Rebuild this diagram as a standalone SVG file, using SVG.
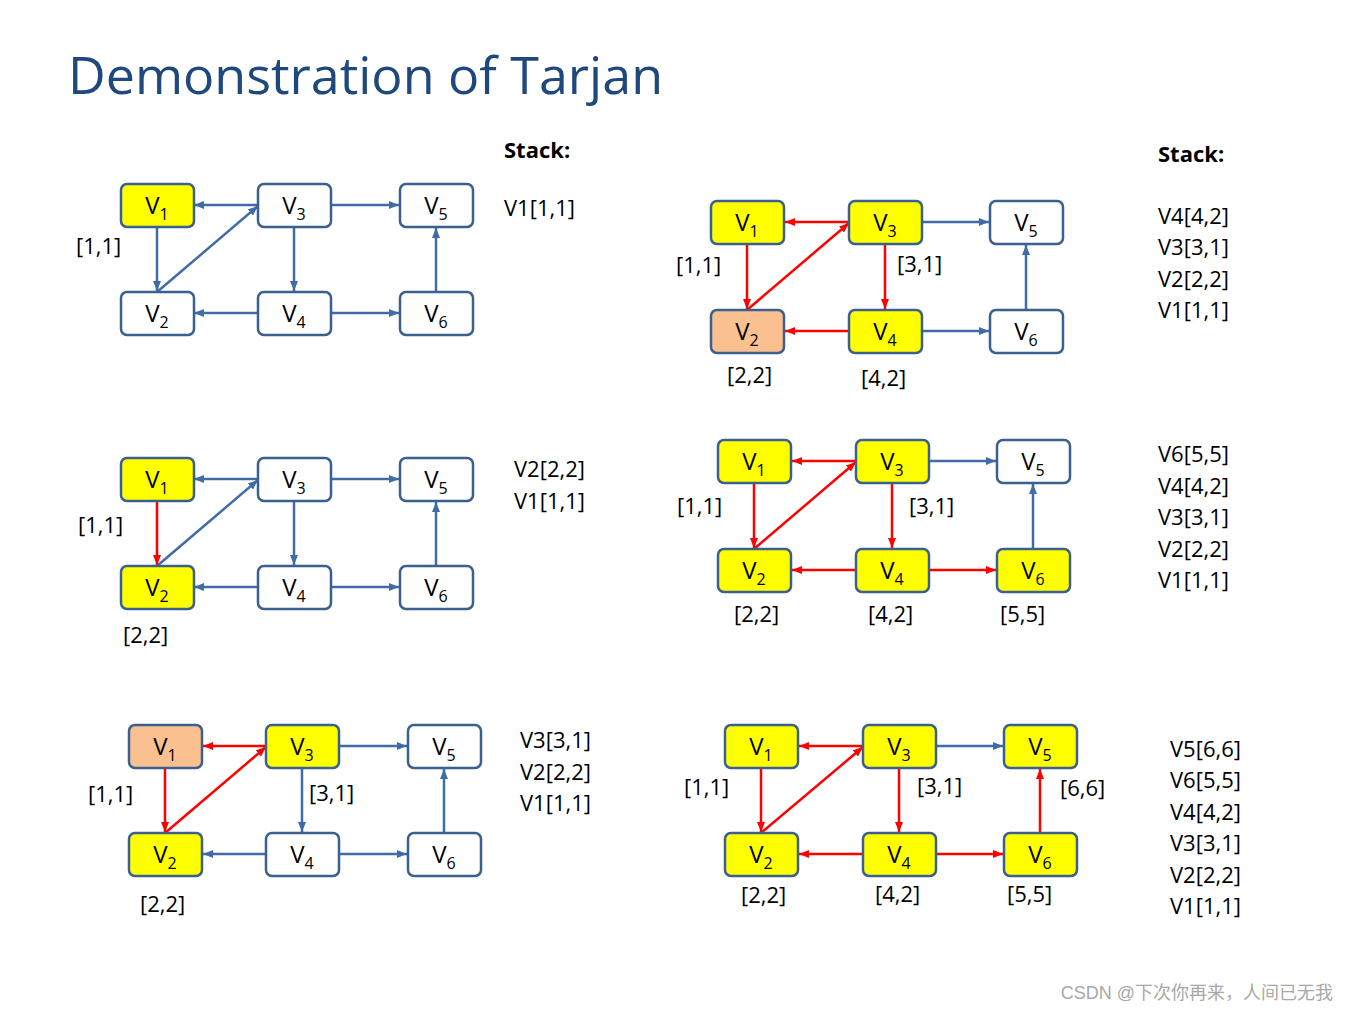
<svg xmlns="http://www.w3.org/2000/svg" width="1348" height="1012" viewBox="0 0 1348 1012">
<style>
.n rect{stroke:#3B5F8F;stroke-width:2.5;fill:#fff}
.y rect{fill:#FFFF00}
.o rect{fill:#FAC090}
.n text{font-family:"Open Sans","Liberation Sans",sans-serif;font-size:24px;fill:#000;text-anchor:middle}
.n tspan{font-size:16px}
.b{stroke:#3F6CA6;stroke-width:2.5;fill:none;marker-end:url(#mb)}
.r{stroke:#FF0000;stroke-width:2.5;fill:none;marker-end:url(#mr)}
.l{font-family:"Open Sans","Liberation Sans",sans-serif;font-size:22px;fill:#000}
.h{font-family:"Open Sans","Liberation Sans",sans-serif;font-size:22px;font-weight:bold;fill:#000}
</style>
<defs>
<marker id="mb" markerUnits="userSpaceOnUse" markerWidth="10" markerHeight="8" refX="10" refY="4" orient="auto"><path d="M0,0L10,4L0,8z" fill="#3F6CA6"/></marker>
<marker id="mr" markerUnits="userSpaceOnUse" markerWidth="10" markerHeight="8" refX="10" refY="4" orient="auto"><path d="M0,0L10,4L0,8z" fill="#FF0000"/></marker>
</defs>
<rect width="1348" height="1012" fill="#fff"/>
<text x="68" y="94" font-family="Open Sans,Liberation Sans,sans-serif" font-size="52" fill="#1F497D">Demonstration of Tarjan</text>

<g id="connectors">
<!-- P1 a121 b258 c400 y0 184 y1 292 -->
<line class="b" x1="258" y1="205" x2="194" y2="205"/>
<line class="b" x1="157" y1="227" x2="157" y2="291"/>
<line class="b" x1="157" y1="292" x2="258" y2="206"/>
<line class="b" x1="294" y1="227" x2="294" y2="291"/>
<line class="b" x1="258" y1="313" x2="194" y2="313"/>
<line class="b" x1="331" y1="205" x2="399" y2="205"/>
<line class="b" x1="331" y1="313" x2="399" y2="313"/>
<line class="b" x1="436" y1="292" x2="436" y2="228"/>
<!-- P2 y0 458 y1 566 -->
<line class="b" x1="258" y1="479" x2="194" y2="479"/>
<line class="r" x1="157" y1="501" x2="157" y2="565"/>
<line class="b" x1="157" y1="566" x2="258" y2="480"/>
<line class="b" x1="294" y1="501" x2="294" y2="565"/>
<line class="b" x1="258" y1="587" x2="194" y2="587"/>
<line class="b" x1="331" y1="479" x2="399" y2="479"/>
<line class="b" x1="331" y1="587" x2="399" y2="587"/>
<line class="b" x1="436" y1="566" x2="436" y2="502"/>
<!-- P3 a129 b266 c408 y0 725 y1 833 -->
<line class="r" x1="266" y1="746" x2="203" y2="746"/>
<line class="r" x1="165" y1="768" x2="165" y2="832"/>
<line class="r" x1="165" y1="833" x2="266" y2="747"/>
<line class="b" x1="302" y1="768" x2="302" y2="832"/>
<line class="b" x1="266" y1="854" x2="203" y2="854"/>
<line class="b" x1="339" y1="746" x2="407" y2="746"/>
<line class="b" x1="339" y1="854" x2="407" y2="854"/>
<line class="b" x1="444" y1="833" x2="444" y2="769"/>
<!-- P4 a711 b849 c990 y0 201 y1 310 -->
<line class="r" x1="849" y1="222" x2="785" y2="222"/>
<line class="r" x1="747" y1="244" x2="747" y2="309"/>
<line class="r" x1="747" y1="310" x2="849" y2="223"/>
<line class="r" x1="885" y1="244" x2="885" y2="309"/>
<line class="r" x1="849" y1="331" x2="785" y2="331"/>
<line class="b" x1="922" y1="222" x2="989" y2="222"/>
<line class="b" x1="922" y1="331" x2="989" y2="331"/>
<line class="b" x1="1026" y1="310" x2="1026" y2="245"/>
<!-- P5 a718 b856 c997 y0 440 y1 549 -->
<line class="r" x1="856" y1="461" x2="792" y2="461"/>
<line class="r" x1="754" y1="483" x2="754" y2="548"/>
<line class="r" x1="754" y1="549" x2="856" y2="462"/>
<line class="r" x1="892" y1="483" x2="892" y2="548"/>
<line class="r" x1="856" y1="570" x2="792" y2="570"/>
<line class="b" x1="929" y1="461" x2="996" y2="461"/>
<line class="r" x1="929" y1="570" x2="996" y2="570"/>
<line class="b" x1="1033" y1="549" x2="1033" y2="484"/>
<!-- P6 a725 b863 c1004 y0 725 y1 833 -->
<line class="r" x1="863" y1="746" x2="799" y2="746"/>
<line class="r" x1="761" y1="768" x2="761" y2="832"/>
<line class="r" x1="761" y1="833" x2="863" y2="747"/>
<line class="r" x1="899" y1="768" x2="899" y2="832"/>
<line class="r" x1="863" y1="854" x2="799" y2="854"/>
<line class="b" x1="936" y1="746" x2="1003" y2="746"/>
<line class="r" x1="936" y1="854" x2="1003" y2="854"/>
<line class="r" x1="1040" y1="833" x2="1040" y2="769"/>
</g>

<!-- Panel 1 -->
<g id="p1v1" class="n y"><rect x="121" y="184" width="73" height="43" rx="6"/><text x="157" y="214">V<tspan dy="6">1</tspan></text></g>
<g id="p1v3" class="n"><rect x="258" y="184" width="73" height="43" rx="6"/><text x="294" y="214">V<tspan dy="6">3</tspan></text></g>
<g id="p1v5" class="n"><rect x="400" y="184" width="73" height="43" rx="6"/><text x="436" y="214">V<tspan dy="6">5</tspan></text></g>
<g id="p1v2" class="n"><rect x="121" y="292" width="73" height="43" rx="6"/><text x="157" y="322">V<tspan dy="6">2</tspan></text></g>
<g id="p1v4" class="n"><rect x="258" y="292" width="73" height="43" rx="6"/><text x="294" y="322">V<tspan dy="6">4</tspan></text></g>
<g id="p1v6" class="n"><rect x="400" y="292" width="73" height="43" rx="6"/><text x="436" y="322">V<tspan dy="6">6</tspan></text></g>
<text class="l" x="76" y="254">[1,1]</text>
<text class="h" x="504" y="158">Stack:</text>
<text class="l" x="504" y="216">V1[1,1]</text>

<!-- Panel 2 -->
<g id="p2v1" class="n y"><rect x="121" y="458" width="73" height="43" rx="6"/><text x="157" y="488">V<tspan dy="6">1</tspan></text></g>
<g id="p2v3" class="n"><rect x="258" y="458" width="73" height="43" rx="6"/><text x="294" y="488">V<tspan dy="6">3</tspan></text></g>
<g id="p2v5" class="n"><rect x="400" y="458" width="73" height="43" rx="6"/><text x="436" y="488">V<tspan dy="6">5</tspan></text></g>
<g id="p2v2" class="n y"><rect x="121" y="566" width="73" height="43" rx="6"/><text x="157" y="596">V<tspan dy="6">2</tspan></text></g>
<g id="p2v4" class="n"><rect x="258" y="566" width="73" height="43" rx="6"/><text x="294" y="596">V<tspan dy="6">4</tspan></text></g>
<g id="p2v6" class="n"><rect x="400" y="566" width="73" height="43" rx="6"/><text x="436" y="596">V<tspan dy="6">6</tspan></text></g>
<text class="l" x="78" y="533">[1,1]</text>
<text class="l" x="123" y="643">[2,2]</text>
<text class="l" x="514" y="477">V2[2,2]</text>
<text class="l" x="514" y="509">V1[1,1]</text>

<!-- Panel 3 -->
<g id="p3v1" class="n o"><rect x="129" y="725" width="73" height="43" rx="6"/><text x="165" y="755">V<tspan dy="6">1</tspan></text></g>
<g id="p3v3" class="n y"><rect x="266" y="725" width="73" height="43" rx="6"/><text x="302" y="755">V<tspan dy="6">3</tspan></text></g>
<g id="p3v5" class="n"><rect x="408" y="725" width="73" height="43" rx="6"/><text x="444" y="755">V<tspan dy="6">5</tspan></text></g>
<g id="p3v2" class="n y"><rect x="129" y="833" width="73" height="43" rx="6"/><text x="165" y="863">V<tspan dy="6">2</tspan></text></g>
<g id="p3v4" class="n"><rect x="266" y="833" width="73" height="43" rx="6"/><text x="302" y="863">V<tspan dy="6">4</tspan></text></g>
<g id="p3v6" class="n"><rect x="408" y="833" width="73" height="43" rx="6"/><text x="444" y="863">V<tspan dy="6">6</tspan></text></g>
<text class="l" x="88" y="802">[1,1]</text>
<text class="l" x="309" y="801">[3,1]</text>
<text class="l" x="140" y="912">[2,2]</text>
<text class="l" x="520" y="748">V3[3,1]</text>
<text class="l" x="520" y="780">V2[2,2]</text>
<text class="l" x="520" y="811">V1[1,1]</text>

<!-- Panel 4 -->
<g id="p4v1" class="n y"><rect x="711" y="201" width="73" height="43" rx="6"/><text x="747" y="231">V<tspan dy="6">1</tspan></text></g>
<g id="p4v3" class="n y"><rect x="849" y="201" width="73" height="43" rx="6"/><text x="885" y="231">V<tspan dy="6">3</tspan></text></g>
<g id="p4v5" class="n"><rect x="990" y="201" width="73" height="43" rx="6"/><text x="1026" y="231">V<tspan dy="6">5</tspan></text></g>
<g id="p4v2" class="n o"><rect x="711" y="310" width="73" height="43" rx="6"/><text x="747" y="340">V<tspan dy="6">2</tspan></text></g>
<g id="p4v4" class="n y"><rect x="849" y="310" width="73" height="43" rx="6"/><text x="885" y="340">V<tspan dy="6">4</tspan></text></g>
<g id="p4v6" class="n"><rect x="990" y="310" width="73" height="43" rx="6"/><text x="1026" y="340">V<tspan dy="6">6</tspan></text></g>
<text class="l" x="676" y="273">[1,1]</text>
<text class="l" x="897" y="272">[3,1]</text>
<text class="l" x="727" y="383">[2,2]</text>
<text class="l" x="861" y="386">[4,2]</text>
<text class="h" x="1158" y="162">Stack:</text>
<text class="l" x="1158" y="224">V4[4,2]</text>
<text class="l" x="1158" y="255">V3[3,1]</text>
<text class="l" x="1158" y="287">V2[2,2]</text>
<text class="l" x="1158" y="318">V1[1,1]</text>

<!-- Panel 5 -->
<g id="p5v1" class="n y"><rect x="718" y="440" width="73" height="43" rx="6"/><text x="754" y="470">V<tspan dy="6">1</tspan></text></g>
<g id="p5v3" class="n y"><rect x="856" y="440" width="73" height="43" rx="6"/><text x="892" y="470">V<tspan dy="6">3</tspan></text></g>
<g id="p5v5" class="n"><rect x="997" y="440" width="73" height="43" rx="6"/><text x="1033" y="470">V<tspan dy="6">5</tspan></text></g>
<g id="p5v2" class="n y"><rect x="718" y="549" width="73" height="43" rx="6"/><text x="754" y="579">V<tspan dy="6">2</tspan></text></g>
<g id="p5v4" class="n y"><rect x="856" y="549" width="73" height="43" rx="6"/><text x="892" y="579">V<tspan dy="6">4</tspan></text></g>
<g id="p5v6" class="n y"><rect x="997" y="549" width="73" height="43" rx="6"/><text x="1033" y="579">V<tspan dy="6">6</tspan></text></g>
<text class="l" x="677" y="514">[1,1]</text>
<text class="l" x="909" y="514">[3,1]</text>
<text class="l" x="734" y="622">[2,2]</text>
<text class="l" x="868" y="622">[4,2]</text>
<text class="l" x="1000" y="622">[5,5]</text>
<text class="l" x="1158" y="462">V6[5,5]</text>
<text class="l" x="1158" y="494">V4[4,2]</text>
<text class="l" x="1158" y="525">V3[3,1]</text>
<text class="l" x="1158" y="557">V2[2,2]</text>
<text class="l" x="1158" y="588">V1[1,1]</text>

<!-- Panel 6 -->
<g id="p6v1" class="n y"><rect x="725" y="725" width="73" height="43" rx="6"/><text x="761" y="755">V<tspan dy="6">1</tspan></text></g>
<g id="p6v3" class="n y"><rect x="863" y="725" width="73" height="43" rx="6"/><text x="899" y="755">V<tspan dy="6">3</tspan></text></g>
<g id="p6v5" class="n y"><rect x="1004" y="725" width="73" height="43" rx="6"/><text x="1040" y="755">V<tspan dy="6">5</tspan></text></g>
<g id="p6v2" class="n y"><rect x="725" y="833" width="73" height="43" rx="6"/><text x="761" y="863">V<tspan dy="6">2</tspan></text></g>
<g id="p6v4" class="n y"><rect x="863" y="833" width="73" height="43" rx="6"/><text x="899" y="863">V<tspan dy="6">4</tspan></text></g>
<g id="p6v6" class="n y"><rect x="1004" y="833" width="73" height="43" rx="6"/><text x="1040" y="863">V<tspan dy="6">6</tspan></text></g>
<text class="l" x="684" y="795">[1,1]</text>
<text class="l" x="917" y="794">[3,1]</text>
<text class="l" x="1060" y="796">[6,6]</text>
<text class="l" x="741" y="903">[2,2]</text>
<text class="l" x="875" y="902">[4,2]</text>
<text class="l" x="1007" y="902">[5,5]</text>
<text class="l" x="1170" y="757">V5[6,6]</text>
<text class="l" x="1170" y="788">V6[5,5]</text>
<text class="l" x="1170" y="820">V4[4,2]</text>
<text class="l" x="1170" y="851">V3[3,1]</text>
<text class="l" x="1170" y="883">V2[2,2]</text>
<text class="l" x="1170" y="914">V1[1,1]</text>

<text x="1333" y="999" text-anchor="end" font-family="Liberation Sans,Noto Sans CJK SC,sans-serif" font-size="18" fill="#A8A8A8">CSDN @下次你再来，人间已无我</text>
</svg>
